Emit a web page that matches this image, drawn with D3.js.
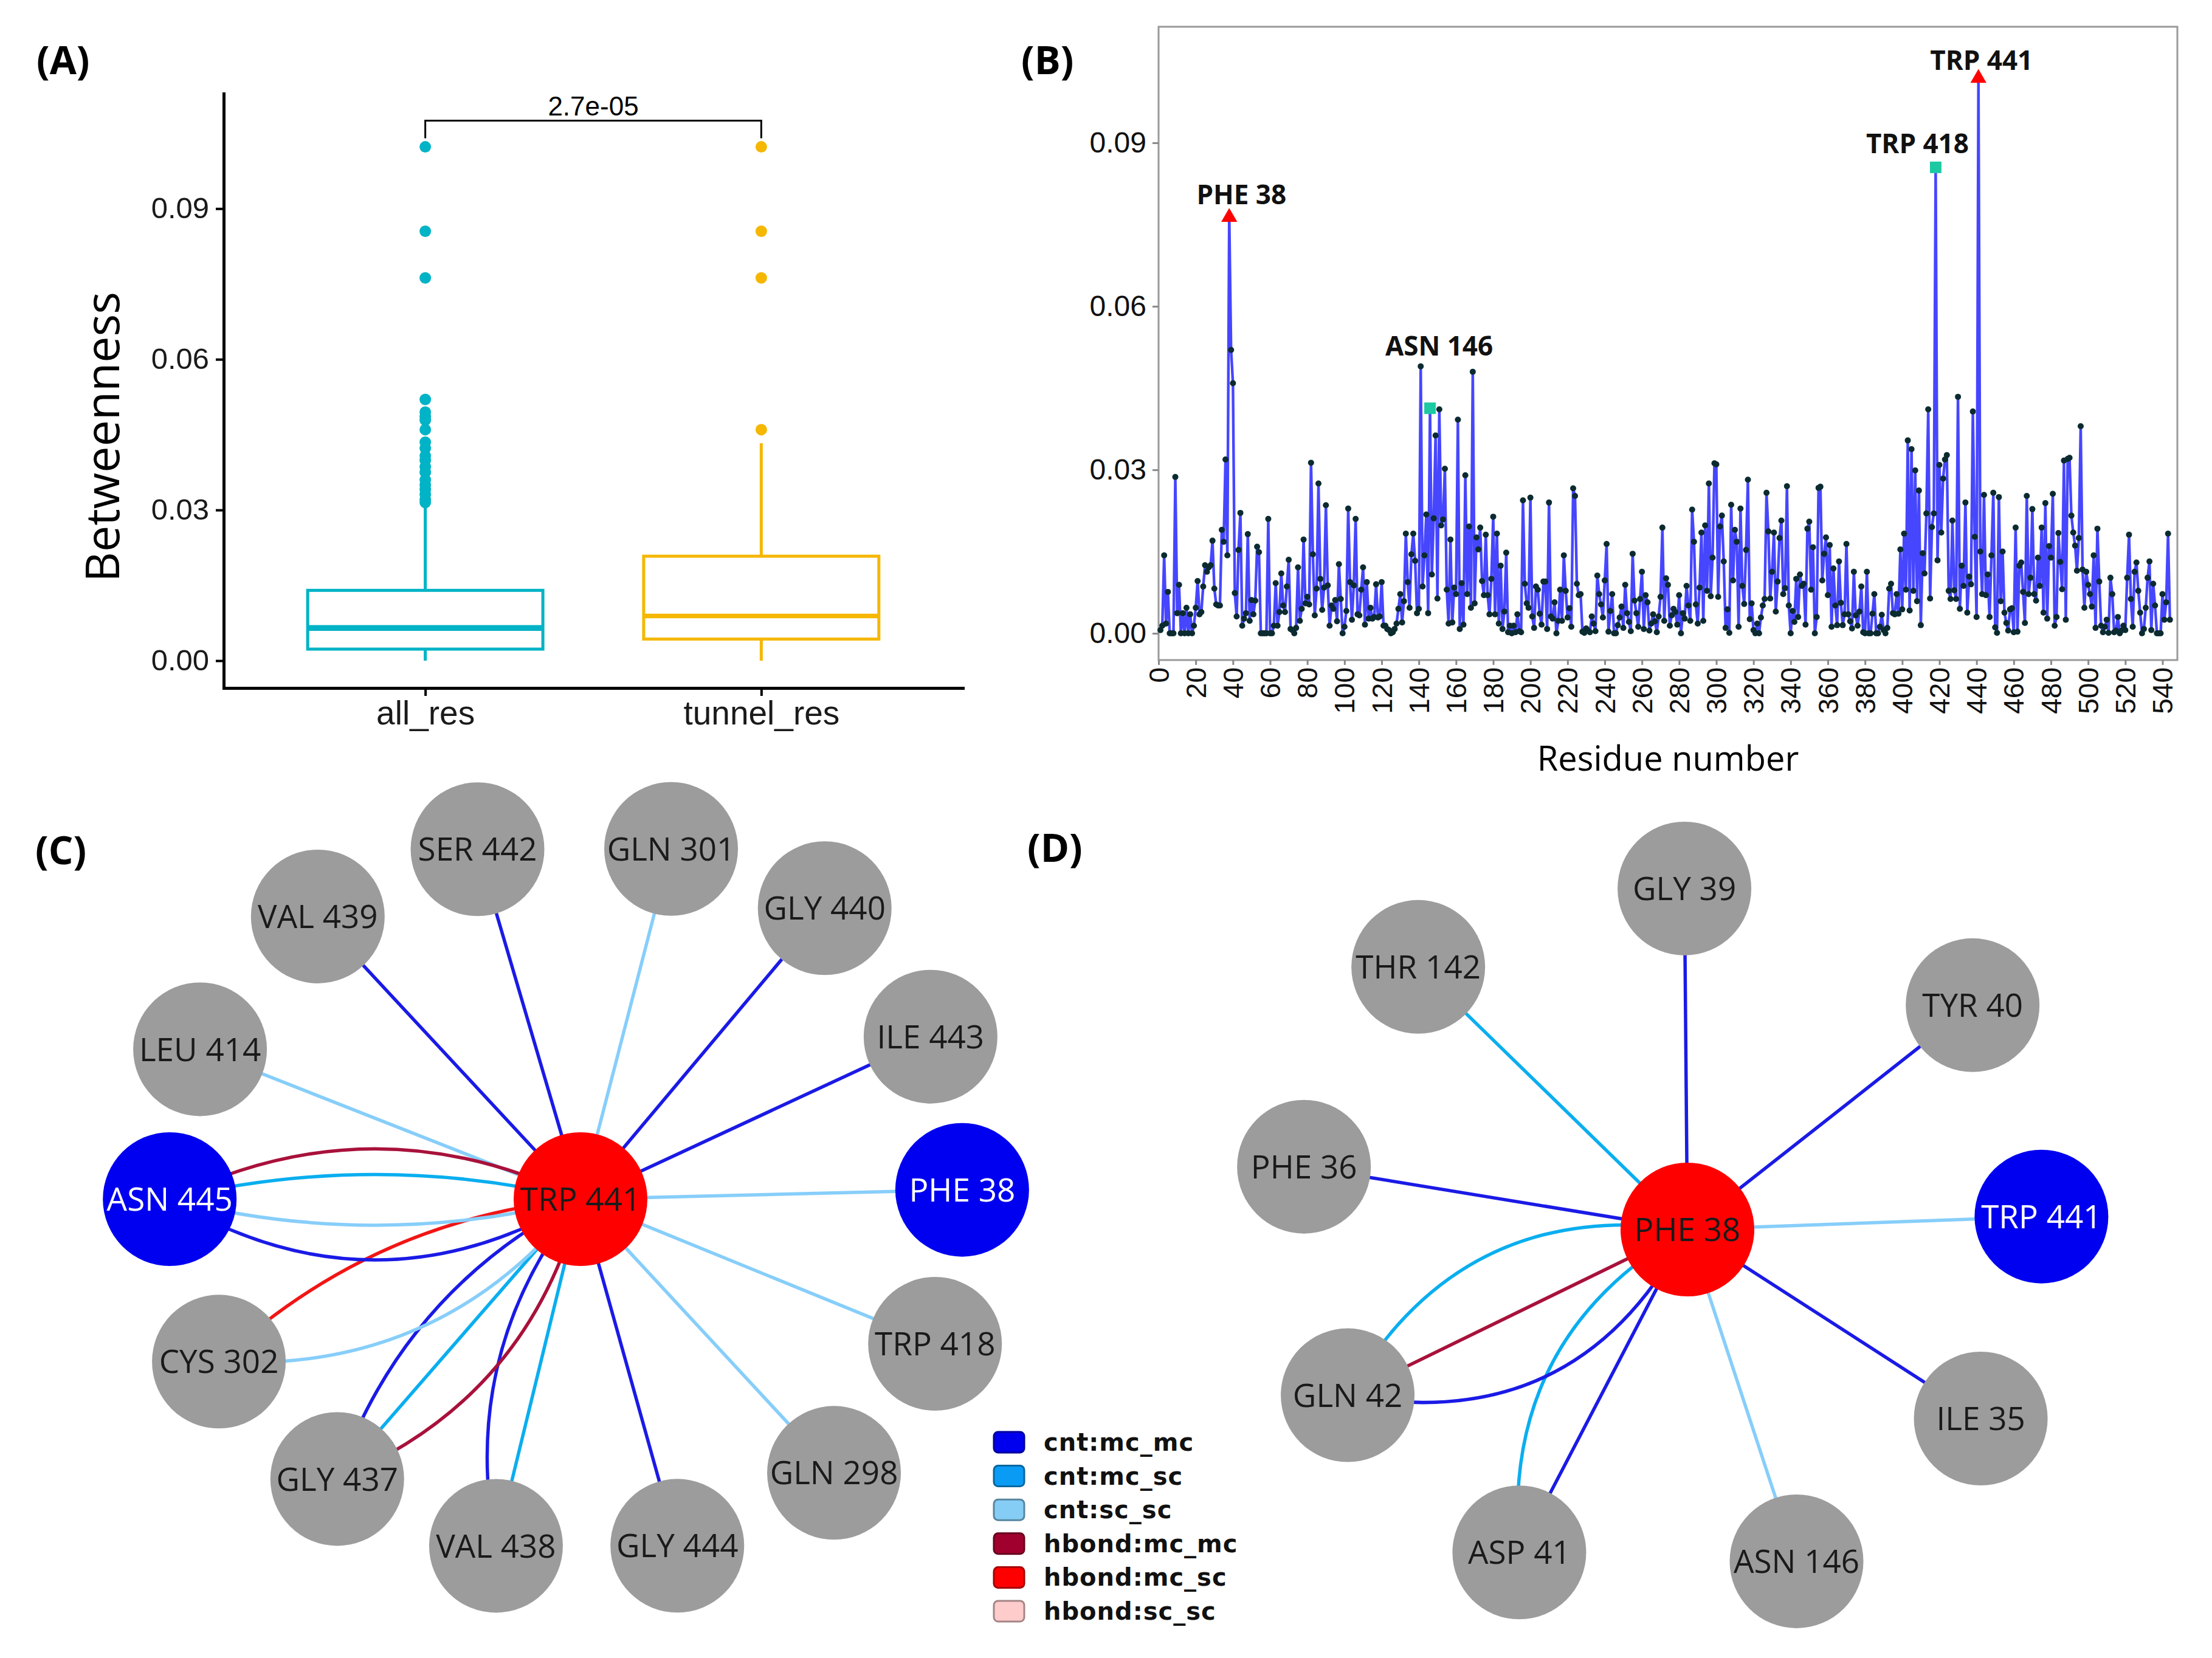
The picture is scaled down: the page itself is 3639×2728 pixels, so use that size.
<!DOCTYPE html>
<html>
<head>
<meta charset="utf-8">
<script src="https://cdn.jsdelivr.net/npm/d3@7"></script>
<style>
  body { margin: 0; background: #fff; }
  svg { display: block; }
</style>
</head>
<body>
<div id="figure"></div>
<script>
// ---------- (A) box plot summary ----------
const boxCategories = ['all_res', 'tunnel_res'];
const boxQ1 = [0.0023, 0.0043];
const boxMedian = [0.0065, 0.0089];
const boxQ3 = [0.0140, 0.0208];
const whiskerLow = [0, 0];
const whiskerHigh = [0.0316, 0.0433];
const outliersAll = [0.1023, 0.0855, 0.0762, 0.0520, 0.0495, 0.0486, 0.0479, 0.0460, 0.0435, 0.0423,
  0.0408, 0.0399, 0.0386, 0.0375, 0.0360, 0.0350, 0.0341, 0.0331, 0.0321, 0.0315];
const outliersTunnel = [0.1023, 0.0855, 0.0762, 0.0460];
const yTicksA = [0, 0.03, 0.06, 0.09];
const pValueLabel = '2.7e-05';

// ---------- (B) betweenness per residue ----------
const firstResidue = 1;
const betweenness = [
  0.0006, 0.0014, 0.0143, 0.0018, 0.0076, 0, 0, 0, 0.0287, 0.0037, 0.0089, 0, 0.0037, 0, 0.0047, 0, 0.0035, 0, 0.0014, 0.0047,
  0.0096, 0.0035, 0.0039, 0.0086, 0.0125, 0.0113, 0.0121, 0.0125, 0.017, 0.0082, 0.0053, 0.0051, 0.0051, 0.019, 0.0168, 0.0319, 0.0143, 0.0768, 0.052, 0.0459,
  0.0074, 0.0031, 0.0153, 0.0221, 0.0014, 0.0027, 0.0037, 0.0182, 0.0023, 0.0061, 0.0035, 0.006, 0.0159, 0.0149, 0, 0, 0, 0, 0.021, 0,
  0, 0.0014, 0.0092, 0.0014, 0.0039, 0.011, 0.0051, 0.0039, 0.0086, 0.0135, 0.0008, 0.0006, 0, 0.001, 0.0121, 0.0023, 0.0045, 0.0172, 0.0055, 0.0067,
  0.0053, 0.0313, 0.0145, 0.0033, 0.0082, 0.0275, 0.01, 0.0043, 0.0084, 0.0235, 0.0088, 0.0014, 0.0051, 0.0045, 0.0061, 0.0022, 0.0127, 0.0063, 0, 0.0012,
  0.0041, 0.0229, 0.0094, 0.0025, 0.0088, 0.021, 0.0035, 0.0033, 0.008, 0.0121, 0.0016, 0.0094, 0.0027, 0.0047, 0.0027, 0.003, 0.009, 0.0029, 0.0031, 0.0094,
  0.0014, 0.0014, 0.0008, 0.0006, 0, 0.0002, 0.0008, 0.0018, 0.0045, 0.0072, 0.002, 0.0059, 0.0183, 0.0094, 0.0047, 0.0145, 0.0183, 0.0133, 0.0037, 0.0045,
  0.049, 0.0086, 0.0143, 0.0218, 0.0037, 0.0413, 0.0108, 0.0211, 0.0363, 0.0064, 0.0411, 0.0198, 0.0209, 0.0302, 0.008, 0.0018, 0.0172, 0.002, 0.0084, 0.0072,
  0.0392, 0.0008, 0.0092, 0.0016, 0.029, 0.0072, 0.0196, 0.0047, 0.048, 0.0055, 0.0176, 0.0154, 0.0194, 0.0096, 0.007, 0.0181, 0.007, 0.0035, 0.01, 0.0214,
  0.0035, 0.0183, 0.0018, 0.0124, 0.0008, 0.004, 0.0148, 0.0002, 0.0014, 0, 0.0014, 0.0002, 0.0035, 0.0004, 0.0002, 0.0244, 0.0091, 0.0055, 0.0047, 0.0249,
  0.0031, 0.001, 0.0086, 0.008, 0.0036, 0.0016, 0.0095, 0.0095, 0.0008, 0.024, 0.0031, 0.0027, 0.0057, 0, 0.0023, 0.008, 0.0023, 0.0143, 0.0078, 0.0029,
  0.0046, 0.0012, 0.0266, 0.0252, 0.0091, 0.007, 0.0072, 0.0003, 0.0001, 0.0009, 0.0005, 0.0002, 0.0031, 0.0018, 0.0004, 0.0106, 0.0072, 0.0053, 0.0029, 0.0097,
  0.0164, 0.0003, 0.0041, 0.0072, 0, 0, 0.0015, 0.0029, 0.0049, 0.001, 0.0089, 0.0037, 0.0021, 0.0004, 0.0146, 0.006, 0.0037, 0.0012, 0.0063, 0.0113,
  0.0008, 0.007, 0.0057, 0.0005, 0.0018, 0.0035, 0.0022, 0.0002, 0.0031, 0.0067, 0.0194, 0.0023, 0.0101, 0.0089, 0.0014, 0.0033, 0.0045, 0.0039, 0.0016, 0.007,
  0, 0.0037, 0.0027, 0.0087, 0.0051, 0.0023, 0.0227, 0.0168, 0.0053, 0.0018, 0.0084, 0.0185, 0.0023, 0.0198, 0.0078, 0.0275, 0.0068, 0.0139, 0.0312, 0.031,
  0.0067, 0.0196, 0.0216, 0.0132, 0.001, 0.0044, 0.0001, 0.0236, 0.0097, 0.019, 0.0168, 0.0012, 0.0229, 0.0087, 0.0054, 0.0153, 0.0282, 0.0026, 0.0055, 0.0006,
  0, 0.0018, 0, 0.0029, 0.0051, 0.0063, 0.0258, 0.0187, 0.0064, 0.0113, 0.0185, 0.004, 0.0095, 0.0175, 0.0207, 0.0072, 0.0083, 0.027, 0.0051, 0,
  0.0041, 0.0021, 0.01, 0.003, 0.0108, 0.0087, 0.0091, 0.0016, 0.0192, 0.0205, 0.008, 0.0158, 0, 0.003, 0.0267, 0.0269, 0.0097, 0.0146, 0.0176, 0.007,
  0.0162, 0.0012, 0.0119, 0.0051, 0.0015, 0.0132, 0.0056, 0.0015, 0.0035, 0.0164, 0.0035, 0.0022, 0.0009, 0.0113, 0.0033, 0.0014, 0.004, 0.0086, 0.0002, 0,
  0.0113, 0, 0, 0.0036, 0.0072, 0, 0, 0.0012, 0.0034, 0.0006, 0, 0.001, 0.0082, 0.0091, 0.0037, 0.0035, 0.0072, 0.0036, 0.0154, 0.0044,
  0.0183, 0.008, 0.0354, 0.0042, 0.0338, 0.0078, 0.0299, 0.0059, 0.0262, 0.0015, 0.0147, 0.011, 0.022, 0.0411, 0.0064, 0.0195, 0.022, 0.0855, 0.0134, 0.0309,
  0.0185, 0.0284, 0.0319, 0.0327, 0.0078, 0.0063, 0.0207, 0.0079, 0.0063, 0.0434, 0.0045, 0.0124, 0.0087, 0.024, 0.0038, 0.0104, 0.009, 0.0407, 0.0177, 0.003,
  0.1023, 0.015, 0.0072, 0.0254, 0.007, 0.0108, 0.003, 0.0143, 0.0258, 0.0011, 0.0001, 0.025, 0.0059, 0.015, 0.0038, 0.0019, 0.0005, 0.0044, 0.0046, 0.0002,
  0.0194, 0.0003, 0.0124, 0.013, 0.0076, 0.0019, 0.0252, 0.0072, 0.0102, 0.0228, 0.0072, 0.006, 0.0139, 0.0087, 0.0194, 0.0038, 0.0239, 0.0027, 0.016, 0.0139,
  0.0256, 0.0014, 0.003, 0.0184, 0.0131, 0.0081, 0.0317, 0.0025, 0.032, 0.0322, 0.0216, 0.0185, 0.0161, 0.0115, 0.0175, 0.038, 0.0117, 0.0047, 0.0113, 0.0089,
  0.0072, 0.0049, 0.0143, 0.001, 0.0192, 0.0095, 0.0014, 0.0002, 0.0012, 0.0025, 0.0001, 0.0102, 0.0072, 0.0002, 0.0005, 0.003, 0, 0.0005, 0.0014, 0.0006,
  0.0102, 0.0181, 0.0063, 0.0012, 0.0113, 0.013, 0.0078, 0.0038, 0, 0.0008, 0.0047, 0.0102, 0.0132, 0.0006, 0.0091, 0.0051, 0, 0, 0, 0.0072,
  0.0025, 0.0057, 0.0183, 0.0025
];
const xTicksB = [0, 20, 40, 60, 80, 100, 120, 140, 160, 180, 200, 220, 240, 260, 280, 300, 320, 340, 360, 380,
  400, 420, 440, 460, 480, 500, 520, 540];
const yTicksB = [0, 0.03, 0.06, 0.09];
const hubResidues = [38, 441];
const hubLabels = ['PHE 38', 'TRP 441'];
const keyResidues = [146, 418];
const keyLabels = ['ASN 146', 'TRP 418'];

// ---------- edge types (legend) ----------
const edgeTypes = ['cnt:mc_mc', 'cnt:mc_sc', 'cnt:sc_sc', 'hbond:mc_mc', 'hbond:mc_sc', 'hbond:sc_sc'];

// ---------- (C) network around TRP 441 ----------
const netCCenter = 'TRP 441';
const netCNodes = ['SER 442', 'GLN 301', 'VAL 439', 'GLY 440', 'LEU 414', 'ILE 443', 'ASN 445',
  'PHE 38', 'CYS 302', 'TRP 418', 'GLY 437', 'GLN 298', 'VAL 438', 'GLY 444'];
const netCAngles = [-16.4, 14.5, -42.9, 40, -68.5, 65.1, -90, 88.6, -114.2, 112.2, -139, 137.2, -166.3, 164.4];
const netCRing = [0.968, 0.96, 1.024, 1.008, 1.085, 1.024, 1.09, 1.013, 1.052, 1.016, 0.984, 0.99, 0.947, 0.955];
const netCHighlighted = ['ASN 445', 'PHE 38'];
const netCEdgeTargets = ['SER 442', 'GLN 301', 'VAL 439', 'GLY 440', 'LEU 414', 'ILE 443', 'PHE 38', 'TRP 418',
  'GLN 298', 'GLY 444', 'VAL 438', 'VAL 438', 'GLY 437', 'GLY 437', 'GLY 437', 'CYS 302', 'CYS 302',
  'ASN 445', 'ASN 445', 'ASN 445', 'ASN 445'];
const netCEdgeTypes = ['cnt:mc_mc', 'cnt:sc_sc', 'cnt:mc_mc', 'cnt:mc_mc', 'cnt:sc_sc', 'cnt:mc_mc', 'cnt:sc_sc', 'cnt:sc_sc',
  'cnt:sc_sc', 'cnt:mc_mc', 'cnt:mc_mc', 'cnt:mc_sc', 'cnt:mc_mc', 'cnt:mc_sc', 'hbond:mc_mc', 'hbond:mc_sc', 'cnt:sc_sc',
  'hbond:mc_mc', 'cnt:mc_sc', 'cnt:sc_sc', 'cnt:mc_mc'];
const netCEdgeBends = [0, 0, 0, 0, 0, 0, 0, 0, 0, 0, 0.23, 0, 0.2, 0, -0.25, 0.17, -0.26, 0.245, 0.12, -0.127, -0.296];

// ---------- (D) network around PHE 38 ----------
const netDCenter = 'PHE 38';
const netDNodes = ['GLY 39', 'THR 142', 'TYR 40', 'PHE 36', 'TRP 441', 'GLN 42', 'ILE 35', 'ASP 41', 'ASN 146'];
const netDAngles = [-0.5, -45.7, 51.8, -80.7, 87.9, -116, 122.8, -152.5, 161.8];
const netDRing = [0.905, 0.998, 0.963, 1.031, 0.94, 1.003, 0.926, 0.966, 0.927];
const netDHighlighted = ['TRP 441'];
const netDEdgeTargets = ['GLY 39', 'THR 142', 'TYR 40', 'PHE 36', 'TRP 441', 'ILE 35', 'ASN 146',
  'ASP 41', 'ASP 41', 'GLN 42', 'GLN 42', 'GLN 42'];
const netDEdgeTypes = ['cnt:mc_mc', 'cnt:mc_sc', 'cnt:mc_mc', 'cnt:mc_mc', 'cnt:sc_sc', 'cnt:mc_mc', 'cnt:sc_sc',
  'cnt:mc_mc', 'cnt:mc_sc', 'cnt:mc_sc', 'hbond:mc_mc', 'cnt:mc_mc'];
const netDEdgeBends = [0, 0, 0, 0, 0, 0, 0, 0, 0.32, 0.34, 0, -0.37];

// ================= drawing =================
const W = 3639, H = 2728;
const svg = d3.select('#figure').append('svg').attr('width', W).attr('height', H);
svg.append('rect').attr('width', W).attr('height', H).attr('fill', '#fff');

const SANS = 'Liberation Sans, Arial, sans-serif';
const OPEN = 'Open Sans, Noto Sans, sans-serif';

// panel letters
const panelLetters = [['(A)', 60, 122], ['(B)', 1680, 122], ['(C)', 58, 1422], ['(D)', 1690, 1418]];
svg.selectAll('.panel-letter').data(panelLetters).join('text')
  .attr('class', 'panel-letter')
  .attr('x', d => d[1]).attr('y', d => d[2])
  .attr('font-family', OPEN).attr('font-weight', 700).attr('font-size', 64)
  .text(d => d[0]);

// ---------- Panel A ----------
const xA = d3.scalePoint().domain(boxCategories).range([368, 1584]).padding(0.6);
const yA = d3.scaleLinear().domain([-0.00544, 0.1129]).range([1132, 154]);
const colorA = d3.scaleOrdinal().domain(boxCategories).range(['#00B3C6', '#F5B700']);
const boxWidth = xA.step() * 0.7;

const gA = svg.append('g');

const yAxisA = gA.append('g').attr('transform', 'translate(368,0)')
  .call(d3.axisLeft(yA).tickValues(yTicksA).tickFormat(d3.format('.2f'))
    .tickSize(13).tickSizeOuter(0).tickPadding(11));
const xAxisA = gA.append('g').attr('transform', 'translate(0,1132)')
  .call(d3.axisBottom(xA).tickSize(13).tickSizeOuter(0).tickPadding(8));
[yAxisA, xAxisA].forEach(ax => {
  ax.select('.domain').attr('stroke', '#000').attr('stroke-width', 5).attr('stroke-linecap', 'square');
  ax.selectAll('.tick line').attr('stroke', '#000').attr('stroke-width', 4);
});
yAxisA.selectAll('text').attr('font-family', SANS).attr('font-size', 49).attr('fill', '#1a1a1a');
xAxisA.selectAll('text').attr('font-family', SANS).attr('font-size', 55).attr('fill', '#1a1a1a');

gA.append('text')
  .attr('transform', 'translate(196,719) rotate(-90)')
  .attr('text-anchor', 'middle')
  .attr('font-family', OPEN).attr('font-size', 77)
  .text('Betweenness');

const boxes = gA.selectAll('.box').data(boxCategories).join('g').attr('class', 'box');
boxes.append('line')
  .attr('x1', d => xA(d)).attr('x2', d => xA(d))
  .attr('y1', (d, i) => yA(whiskerLow[i])).attr('y2', (d, i) => yA(boxQ1[i]))
  .attr('stroke', d => colorA(d)).attr('stroke-width', 5);
boxes.append('line')
  .attr('x1', d => xA(d)).attr('x2', d => xA(d))
  .attr('y1', (d, i) => yA(boxQ3[i])).attr('y2', (d, i) => yA(whiskerHigh[i]))
  .attr('stroke', d => colorA(d)).attr('stroke-width', 5);
boxes.append('rect')
  .attr('x', d => xA(d) - boxWidth / 2).attr('width', boxWidth)
  .attr('y', (d, i) => yA(boxQ3[i]))
  .attr('height', (d, i) => yA(boxQ1[i]) - yA(boxQ3[i]))
  .attr('fill', '#fff').attr('stroke', d => colorA(d)).attr('stroke-width', 5);
boxes.append('line')
  .attr('x1', d => xA(d) - boxWidth / 2).attr('x2', d => xA(d) + boxWidth / 2)
  .attr('y1', (d, i) => yA(boxMedian[i])).attr('y2', (d, i) => yA(boxMedian[i]))
  .attr('stroke', d => colorA(d)).attr('stroke-width', (d, i) => i === 0 ? 9.5 : 7.5);

const outlierSets = [outliersAll, outliersTunnel];
boxes.each(function (cat, i) {
  d3.select(this).selectAll('circle').data(outlierSets[i]).join('circle')
    .attr('cx', xA(cat)).attr('cy', v => yA(v)).attr('r', 9.5)
    .attr('fill', colorA(cat));
});

// significance bracket
const topVal = d3.max(outliersAll.concat(outliersTunnel));
const bracketY = yA(topVal) - 43;
gA.append('path')
  .attr('d', `M${xA(boxCategories[0])},${bracketY + 29}V${bracketY}H${xA(boxCategories[1])}V${bracketY + 29}`)
  .attr('fill', 'none').attr('stroke', '#000').attr('stroke-width', 3);
gA.append('text')
  .attr('x', (xA(boxCategories[0]) + xA(boxCategories[1])) / 2).attr('y', bracketY - 9)
  .attr('text-anchor', 'middle').attr('font-family', SANS).attr('font-size', 44)
  .text(pValueLabel);

// ---------- Panel B ----------
const xB = d3.scaleLinear().domain([0, 548]).range([1906, 3582]);
const yB = d3.scaleLinear().domain([-0.0049, 0.1113]).range([1086, 44]);
const seriesB = betweenness.map((v, i) => ({res: firstResidue + i, v}));
const valueAt = r => betweenness[r - firstResidue];

const gB = svg.append('g');
gB.append('rect')
  .attr('x', xB.range()[0]).attr('y', yB.range()[1])
  .attr('width', xB.range()[1] - xB.range()[0]).attr('height', yB.range()[0] - yB.range()[1])
  .attr('fill', 'none').attr('stroke', '#9a9a9a').attr('stroke-width', 3);

const yAxisB = gB.append('g').attr('transform', `translate(${xB.range()[0]},0)`)
  .call(d3.axisLeft(yB).tickValues(yTicksB).tickFormat(d3.format('.2f')).tickSize(10).tickSizeOuter(0).tickPadding(10));
yAxisB.select('.domain').remove();
yAxisB.selectAll('.tick line').attr('stroke', '#8a8a8a').attr('stroke-width', 3);
yAxisB.selectAll('text').attr('font-family', SANS).attr('font-size', 48).attr('fill', '#111');

const xAxisB = gB.append('g').attr('transform', `translate(0,${yB.range()[0]})`)
  .call(d3.axisBottom(xB).tickValues(xTicksB).tickSize(8).tickSizeOuter(0));
xAxisB.select('.domain').remove();
xAxisB.selectAll('.tick line').attr('stroke', '#8a8a8a').attr('stroke-width', 3);
xAxisB.selectAll('text')
  .attr('font-family', SANS).attr('font-size', 46).attr('fill', '#111')
  .attr('transform', 'rotate(-90)')
  .attr('x', -12).attr('y', 0).attr('dy', '0.35em')
  .attr('text-anchor', 'end');

gB.append('text')
  .attr('x', (xB.range()[0] + xB.range()[1]) / 2).attr('y', 1268)
  .attr('text-anchor', 'middle').attr('font-family', OPEN).attr('font-size', 56)
  .text('Residue number');

gB.append('path').datum(seriesB)
  .attr('d', d3.line().x(d => xB(d.res)).y(d => yB(d.v)))
  .attr('fill', 'none').attr('stroke', '#4646FF').attr('stroke-width', 4.4).attr('stroke-linejoin', 'round');
gB.selectAll('.res-dot').data(seriesB).join('circle')
  .attr('class', 'res-dot')
  .attr('cx', d => xB(d.res)).attr('cy', d => yB(d.v)).attr('r', 5)
  .attr('fill', '#0B2B30');

// hub markers (red triangles) and key residues (teal squares)
gB.selectAll('.hub').data(hubResidues).join('path')
  .attr('class', 'hub')
  .attr('transform', r => `translate(${xB(r)},${yB(valueAt(r)) + 4})`)
  .attr('d', d3.symbol(d3.symbolTriangle, 300))
  .attr('fill', '#FF0000');
gB.selectAll('.key').data(keyResidues).join('path')
  .attr('class', 'key')
  .attr('transform', r => `translate(${xB(r)},${yB(valueAt(r))})`)
  .attr('d', d3.symbol(d3.symbolSquare, 360))
  .attr('fill', '#1CC9A2');

// label offsets (layout only)
const annotOffsets = {'PHE 38': [20, -17], 'TRP 441': [5, -10], 'ASN 146': [15, -87], 'TRP 418': [-30, -23]};
const annotations = hubResidues.map((r, i) => [r, hubLabels[i]]).concat(keyResidues.map((r, i) => [r, keyLabels[i]]));
gB.selectAll('.annot').data(annotations).join('text')
  .attr('class', 'annot')
  .attr('x', d => xB(d[0]) + annotOffsets[d[1]][0])
  .attr('y', d => yB(valueAt(d[0])) + annotOffsets[d[1]][1])
  .attr('text-anchor', 'middle').attr('font-family', OPEN).attr('font-weight', 700).attr('font-size', 44)
  .attr('fill', '#111')
  .text(d => d[1]);

// ---------- Networks C & D ----------
const edgeColor = d3.scaleOrdinal().domain(edgeTypes)
  .range(['#1A1AE6', '#0AAEEF', '#87CEFA', '#A8113B', '#F21515', '#FFC8C8']);
const ringScale = d3.scaleLinear().domain([0, 1]).range([0, 620]);
const nodeR = 110;

function drawNetwork(origin, center, nodes, angles, ring, highlighted, targets, types, bends) {
  const g = svg.append('g');
  const pos = new Map([[center, origin]]);
  nodes.forEach((n, i) => {
    const [px, py] = d3.pointRadial(angles[i] * Math.PI / 180, ringScale(ring[i]));
    pos.set(n, [origin[0] + px, origin[1] + py]);
  });

  const edges = targets.map((t, i) => ({t, type: types[i], bend: bends[i]}));
  g.selectAll('.edge').data(edges).join('path')
    .attr('class', 'edge')
    .attr('d', e => {
      const s = pos.get(center), t = pos.get(e.t);
      const dx = t[0] - s[0], dy = t[1] - s[1];
      const p = d3.path();
      p.moveTo(s[0], s[1]);
      p.quadraticCurveTo((s[0] + t[0]) / 2 - dy * e.bend, (s[1] + t[1]) / 2 + dx * e.bend, t[0], t[1]);
      return p.toString();
    })
    .attr('fill', 'none').attr('stroke', e => edgeColor(e.type)).attr('stroke-width', 5.5);

  const all = [center].concat(nodes);
  const fillOf = n => n === center ? '#FF0000' : (highlighted.includes(n) ? '#0000F0' : '#9C9C9C');
  const nodeG = g.selectAll('.node').data(all).join('g')
    .attr('class', 'node')
    .attr('transform', n => `translate(${pos.get(n)[0]},${pos.get(n)[1]})`);
  nodeG.append('circle').attr('r', nodeR).attr('fill', fillOf);
  nodeG.append('text')
    .attr('text-anchor', 'middle').attr('dy', '0.36em')
    .attr('font-family', OPEN).attr('font-size', 53)
    .attr('fill', n => highlighted.includes(n) ? '#fff' : '#1a1a1a')
    .text(n => n);
}

drawNetwork([955, 1973], netCCenter, netCNodes, netCAngles, netCRing, netCHighlighted,
  netCEdgeTargets, netCEdgeTypes, netCEdgeBends);
drawNetwork([2776, 2023], netDCenter, netDNodes, netDAngles, netDRing, netDHighlighted,
  netDEdgeTargets, netDEdgeTypes, netDEdgeBends);

// ---------- legend ----------
const legendFill = d3.scaleOrdinal().domain(edgeTypes)
  .range(['#0000EE', '#0A9CF5', '#86CDF5', '#A0002E', '#FF0000', '#FFCCCC']);
const legendY = d3.scalePoint().domain(edgeTypes).range([2373, 2651]);
const legend = svg.append('g').selectAll('g').data(edgeTypes).join('g')
  .attr('transform', t => `translate(1635,${legendY(t)})`);
legend.append('rect')
  .attr('x', 0).attr('y', -17).attr('width', 50).attr('height', 34).attr('rx', 7)
  .attr('fill', t => legendFill(t))
  .attr('stroke', t => d3.color(legendFill(t)).darker(1.2)).attr('stroke-width', 3);
legend.append('text')
  .attr('x', 82).attr('dy', '0.35em')
  .attr('font-family', 'DejaVu Sans, sans-serif').attr('font-weight', 700).attr('font-size', 40)
  .attr('letter-spacing', 1)
  .attr('fill', '#111')
  .text(t => t);
</script>
</body>
</html>
